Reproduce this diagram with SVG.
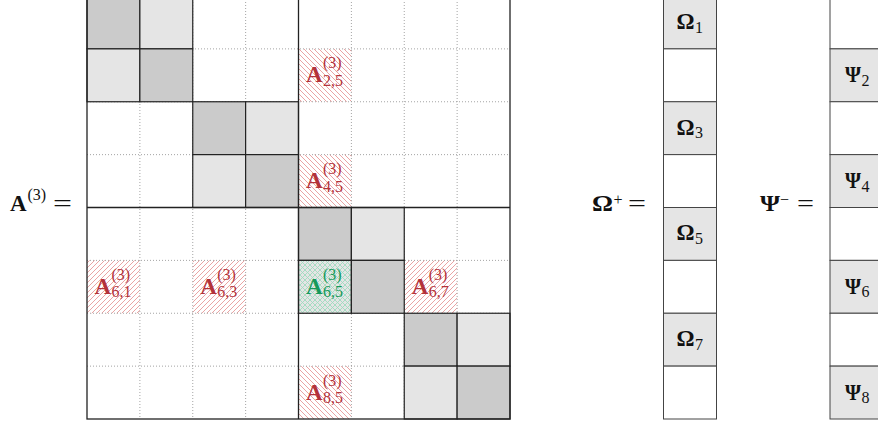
<svg xmlns="http://www.w3.org/2000/svg" width="878" height="425" viewBox="0 0 878 425">
<style>
.bg{fill:#ffffff}
.dot{stroke:#9a9a9a;stroke-width:0.9;stroke-dasharray:1 2;fill:none}
.dk{fill:#cbcbcb;stroke:#222;stroke-width:1.2}
.lt{fill:#e5e5e5;stroke:#222;stroke-width:1.2}
.solid{stroke:#222;stroke-width:1.3;fill:none}
.vec{stroke:#444;stroke-width:1}
.vg{fill:#e5e5e5}
.vw{fill:#ffffff}
.B{font-family:"Liberation Serif","DejaVu Serif",serif;font-weight:bold;font-size:23px}
.sc{font-family:"Liberation Serif","DejaVu Serif",serif;font-size:16px}
.eq{font-family:"Liberation Serif","DejaVu Serif",serif;font-size:23px}
.red{fill:#b3323a}
.grn{fill:#16995a}
.blk{fill:#111}
</style>
<defs>
<pattern id="nw" patternUnits="userSpaceOnUse" width="5" height="5">
<rect width="5" height="5" fill="#fff"/>
<path d="M0,0 L5,5 M-1,4 L1,6 M4,-1 L6,1" stroke="#e89a9a" stroke-width="0.9"/>
</pattern>
<pattern id="ne" patternUnits="userSpaceOnUse" width="5" height="5">
<rect width="5" height="5" fill="#fff"/>
<path d="M0,5 L5,0 M-1,1 L1,-1 M4,6 L6,4" stroke="#e89a9a" stroke-width="0.9"/>
</pattern>
<pattern id="cross" patternUnits="userSpaceOnUse" width="5" height="5">
<rect width="5" height="5" fill="#e5e5e5"/>
<path d="M0,0 L5,5 M-1,4 L1,6 M4,-1 L6,1 M0,5 L5,0 M-1,1 L1,-1 M4,6 L6,4" stroke="#a0dbbf" stroke-width="0.9"/>
</pattern>
</defs>
<rect class="bg" x="0" y="0" width="878" height="425"/>

<g id="matrix">
  <g id="hatched-cells">
    <rect x="298.5" y="48.875" width="52.875" height="52.875" fill="url(#nw)"/>
    <rect x="298.5" y="154.625" width="52.875" height="52.875" fill="url(#nw)"/>
    <rect x="87" y="260.375" width="52.875" height="52.875" fill="url(#ne)"/>
    <rect x="192.75" y="260.375" width="52.875" height="52.875" fill="url(#ne)"/>
    <rect x="404.25" y="260.375" width="52.875" height="52.875" fill="url(#ne)"/>
    <rect x="298.5" y="366.125" width="52.875" height="52.875" fill="url(#nw)"/>
  </g>
  <g id="dotted-grid" class="dot">
    <path d="M139.875,-4V419 M192.75,-4V419 M245.625,-4V419 M351.375,-4V419 M404.25,-4V419 M457.125,-4V419"/>
    <path d="M87,48.875H510 M87,101.75H510 M87,154.625H510 M87,260.375H510 M87,313.25H510 M87,366.125H510"/>
  </g>
  <g id="block-1">
    <rect class="dk" x="87" y="-4" width="52.875" height="52.875"/>
    <rect class="lt" x="139.875" y="-4" width="52.875" height="52.875"/>
    <rect class="lt" x="87" y="48.875" width="52.875" height="52.875"/>
    <rect class="dk" x="139.875" y="48.875" width="52.875" height="52.875"/>
  </g>
  <g id="block-2">
    <rect class="dk" x="192.75" y="101.75" width="52.875" height="52.875"/>
    <rect class="lt" x="245.625" y="101.75" width="52.875" height="52.875"/>
    <rect class="lt" x="192.75" y="154.625" width="52.875" height="52.875"/>
    <rect class="dk" x="245.625" y="154.625" width="52.875" height="52.875"/>
  </g>
  <g id="block-3">
    <rect class="dk" x="298.5" y="207.5" width="52.875" height="52.875"/>
    <rect class="lt" x="351.375" y="207.5" width="52.875" height="52.875"/>
    <rect class="lt" x="298.5" y="260.375" width="52.875" height="52.875" style="fill:url(#cross)"/>
    <rect class="dk" x="351.375" y="260.375" width="52.875" height="52.875"/>
  </g>
  <g id="block-4">
    <rect class="dk" x="404.25" y="313.25" width="52.875" height="52.875"/>
    <rect class="lt" x="457.125" y="313.25" width="52.875" height="52.875"/>
    <rect class="lt" x="404.25" y="366.125" width="52.875" height="52.875"/>
    <rect class="dk" x="457.125" y="366.125" width="52.875" height="52.875"/>
  </g>
  <g id="outline" class="solid">
    <rect x="87" y="-4" width="423" height="423"/>
    <path d="M298.5,-4V419 M87,207.5H510"/>
  </g>
  <g id="cell-labels">
    <g id="A25" class="red" transform="translate(298.5,75.31)"><text class="B" x="7.5" y="7">A</text><text class="sc" x="24.5" y="-7">(3)</text><text class="sc" x="24.5" y="10.5">2,5</text></g>
    <g id="A45" class="red" transform="translate(298.5,181.06)"><text class="B" x="7.5" y="7">A</text><text class="sc" x="24.5" y="-7">(3)</text><text class="sc" x="24.5" y="10.5">4,5</text></g>
    <g id="A61" class="red" transform="translate(87,286.81)"><text class="B" x="7.5" y="7">A</text><text class="sc" x="24.5" y="-7">(3)</text><text class="sc" x="24.5" y="10.5">6,1</text></g>
    <g id="A63" class="red" transform="translate(192.75,286.81)"><text class="B" x="7.5" y="7">A</text><text class="sc" x="24.5" y="-7">(3)</text><text class="sc" x="24.5" y="10.5">6,3</text></g>
    <g id="A65" class="grn" transform="translate(298.5,286.81)"><text class="B" x="7.5" y="7">A</text><text class="sc" x="24.5" y="-7">(3)</text><text class="sc" x="24.5" y="10.5">6,5</text></g>
    <g id="A67" class="red" transform="translate(404.25,286.81)"><text class="B" x="7.5" y="7">A</text><text class="sc" x="24.5" y="-7">(3)</text><text class="sc" x="24.5" y="10.5">6,7</text></g>
    <g id="A85" class="red" transform="translate(298.5,392.56)"><text class="B" x="7.5" y="7">A</text><text class="sc" x="24.5" y="-7">(3)</text><text class="sc" x="24.5" y="10.5">8,5</text></g>
  </g>
</g>

<g id="label-A" class="blk">
  <text class="B" x="10" y="211">A</text>
  <text class="sc" x="27.5" y="200">(3)</text>
  <text class="eq" x="53" y="211" textLength="19" lengthAdjust="spacingAndGlyphs">=</text>
</g>

<g id="label-Omega" class="blk">
  <text class="B" x="592" y="211" textLength="21" lengthAdjust="spacingAndGlyphs">Ω</text>
  <text class="sc" x="613.5" y="204.5">+</text>
  <text class="eq" x="628" y="211" textLength="18" lengthAdjust="spacingAndGlyphs">=</text>
</g>

<g id="label-Psi" class="blk">
  <text class="B" x="760" y="211" textLength="20" lengthAdjust="spacingAndGlyphs">Ψ</text>
  <text class="sc" x="780" y="204.5">−</text>
  <text class="eq" x="797" y="211" textLength="17" lengthAdjust="spacingAndGlyphs">=</text>
</g>

<g id="vector-Omega">
  <rect class="vec vg" x="663.5" y="-4" width="53" height="52.875"/>
  <rect class="vec vw" x="663.5" y="48.875" width="53" height="52.875"/>
  <rect class="vec vg" x="663.5" y="101.75" width="53" height="52.875"/>
  <rect class="vec vw" x="663.5" y="154.625" width="53" height="52.875"/>
  <rect class="vec vg" x="663.5" y="207.5" width="53" height="52.875"/>
  <rect class="vec vw" x="663.5" y="260.375" width="53" height="52.875"/>
  <rect class="vec vg" x="663.5" y="313.25" width="53" height="52.875"/>
  <rect class="vec vw" x="663.5" y="366.125" width="53" height="52.875"/>
  <g class="blk">
    <text class="B" x="676.5" y="29" textLength="18" lengthAdjust="spacingAndGlyphs">Ω</text><text class="sc" x="695" y="32.5">1</text>
    <text class="B" x="676.5" y="134.7" textLength="18" lengthAdjust="spacingAndGlyphs">Ω</text><text class="sc" x="695" y="138.2">3</text>
    <text class="B" x="676.5" y="240.4" textLength="18" lengthAdjust="spacingAndGlyphs">Ω</text><text class="sc" x="695" y="244">5</text>
    <text class="B" x="676.5" y="346.2" textLength="18" lengthAdjust="spacingAndGlyphs">Ω</text><text class="sc" x="695" y="349.7">7</text>
  </g>
</g>

<g id="vector-Psi">
  <rect class="vec vw" x="830" y="-4" width="53" height="52.875"/>
  <rect class="vec vg" x="830" y="48.875" width="53" height="52.875"/>
  <rect class="vec vw" x="830" y="101.75" width="53" height="52.875"/>
  <rect class="vec vg" x="830" y="154.625" width="53" height="52.875"/>
  <rect class="vec vw" x="830" y="207.5" width="53" height="52.875"/>
  <rect class="vec vg" x="830" y="260.375" width="53" height="52.875"/>
  <rect class="vec vw" x="830" y="313.25" width="53" height="52.875"/>
  <rect class="vec vg" x="830" y="366.125" width="53" height="52.875"/>
  <g class="blk">
    <text class="B" x="845" y="82.3" textLength="16" lengthAdjust="spacingAndGlyphs">Ψ</text><text class="sc" x="861.5" y="85.8">2</text>
    <text class="B" x="845" y="188" textLength="16" lengthAdjust="spacingAndGlyphs">Ψ</text><text class="sc" x="861.5" y="191.5">4</text>
    <text class="B" x="845" y="293.8" textLength="16" lengthAdjust="spacingAndGlyphs">Ψ</text><text class="sc" x="861.5" y="297.3">6</text>
    <text class="B" x="845" y="399.5" textLength="16" lengthAdjust="spacingAndGlyphs">Ψ</text><text class="sc" x="861.5" y="403">8</text>
  </g>
</g>
</svg>
